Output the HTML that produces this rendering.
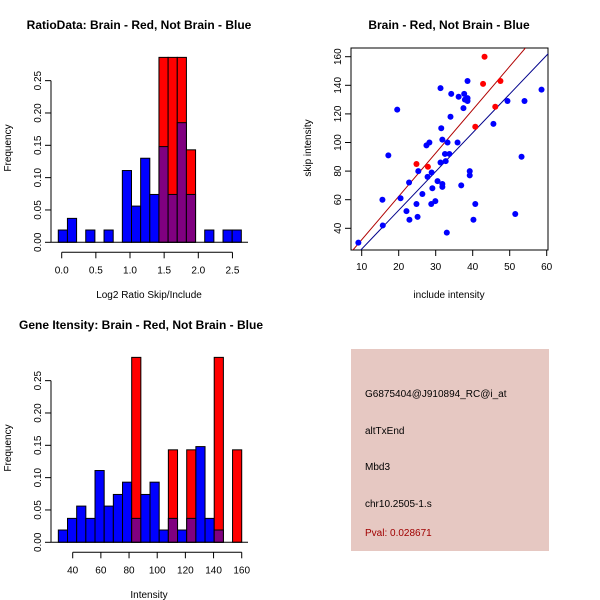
<!DOCTYPE html>
<html><head><meta charset="utf-8"><style>
body{margin:0;background:#fff;}
svg{display:block;font-family:"Liberation Sans",sans-serif;}
</style></head><body>
<svg id="c" width="600" height="600" xmlns="http://www.w3.org/2000/svg">
<rect width="600" height="600" fill="#fff"/>
<text x="139" y="29" font-size="12" font-weight="bold" text-anchor="middle">RatioData: Brain - Red, Not Brain - Blue</text>
<text x="449" y="29" font-size="12" font-weight="bold" text-anchor="middle">Brain - Red, Not Brain - Blue</text>
<text x="141" y="329" font-size="12" font-weight="bold" text-anchor="middle">Gene Itensity: Brain - Red, Not Brain - Blue</text>
<text x="149" y="298" font-size="10" text-anchor="middle">Log2 Ratio Skip/Include</text>
<text x="149" y="598" font-size="10" text-anchor="middle">Intensity</text>
<text x="449" y="298" font-size="10" text-anchor="middle">include intensity</text>
<text transform="translate(11,148) rotate(-90)" font-size="10" text-anchor="middle">Frequency</text>
<text transform="translate(11,448) rotate(-90)" font-size="10" text-anchor="middle">Frequency</text>
<text transform="translate(311,148) rotate(-90)" font-size="10" text-anchor="middle">skip intensity</text>
<g>
<rect x="351" y="349" width="198" height="202" fill="#e6c8c2"/>
<text x="365" y="397" font-size="10">G6875404@J910894_RC@i_at</text>
<text x="365" y="434" font-size="10">altTxEnd</text>
<text x="365" y="470" font-size="10">Mbd3</text>
<text x="365" y="507" font-size="10">chr10.2505-1.s</text>
<text x="365" y="536" font-size="10" fill="#a00000">Pval: 0.028671</text>
</g>
</svg>
<script>
// Ratio histogram data
const ratioBreakStart = -0.05, ratioBinWidth = 0.134;
const ratioBlue = [0.019,0.037,0,0.019,0,0.019,0,0.111,0.056,0.130,0.074,0.148,0.074,0.185,0.074,0,0.019,0,0.019,0.019];
const ratioRed  = [0,0,0,0,0,0,0,0,0,0,0,0.286,0.286,0.286,0.143,0,0,0,0,0];
const ratioXTicks = [0.0,0.5,1.0,1.5,2.0,2.5];
const ratioXLabels = ["0.0","0.5","1.0","1.5","2.0","2.5"];
const freqTicks = [0,0.05,0.10,0.15,0.20,0.25];
const freqLabels = ["0.00","0.05","0.10","0.15","0.20","0.25"];
// Intensity histogram data
const intBreakStart = 29.8, intBinWidth = 6.51;
const intBlue = [0.019,0.037,0.056,0.037,0.111,0.056,0.074,0.093,0.037,0.074,0.093,0.019,0.037,0.019,0.037,0.148,0.037,0.019,0,0];
const intRed  = [0,0,0,0,0,0,0,0,0.286,0,0,0,0.143,0,0.143,0,0,0.286,0,0.143];
const intXTicks = [40,60,80,100,120,140,160];
const intXLabels = ["40","60","80","100","120","140","160"];
// Scatter data
const blueX = [9.1,15.7,15.6,17.2,19.6,20.5,22.1,22.8,22.9,24.8,25.1,25.3,26.4,27.5,27.8,28.3,28.9,28.8,29.1,29.9,30.5,31.3,31.3,31.5,31.8,31.8,31.8,32.5,32.7,33.0,33.2,33.7,34.0,34.2,35.9,36.2,36.9,37.5,37.7,37.9,38.6,38.6,38.6,39.2,39.2,40.7,40.2,45.6,49.4,51.5,53.2,54.0,58.6];
const blueY = [30,42,60,91,123,61,52,72,46,57,48,80,64,98,76,100,79,57,68,59,73,138,86,110,102,71,69,92,87,37,100,92,118,134,100,132,70,124,134,130,143,131,129,80,77,57,46,113,129,50,90,129,137];
const redX = [24.8,27.9,40.7,43.2,42.8,47.5,46.1];
const redY = [85,83,111,160,141,143,125];
const scXTicks = [10,20,30,40,50,60];
const scYTicks = [40,60,80,100,120,140,160];
const redFit = [1.7,3.03];   // intercept, slope
const blueFit = [-1.6,2.71];

const svg = document.getElementById('c');
const NS = 'http://www.w3.org/2000/svg';
function mk(tag, attrs){const e=document.createElementNS(NS,tag);for(const k in attrs)e.setAttribute(k,attrs[k]);svg.appendChild(e);return e;}

function hist(x0px, unit, xv0, y0px, blue, red, start, bw, xt, xl, pref){
  const X=v=>x0px+(v-xv0)*unit;
  const Y=f=>y0px-f*(32.33/0.05);
  for(let i=0;i<blue.length;i++){
    const a=X(start+i*bw), b=X(start+(i+1)*bw);
    const bv=blue[i], rv=red[i];
    if(rv>0){
      const r=mk('rect',{x:a,y:Y(rv),width:b-a,height:Y(0)-Y(rv),fill:'#ff0000',stroke:'#000','stroke-width':1});
      
      
    }
    if(bv>0){
      const overlap=rv>0;
      const r=mk('rect',{x:a,y:Y(bv),width:b-a,height:Y(0)-Y(bv),fill:overlap?'#800080':'#0000ff',stroke:'#000','stroke-width':1});
      
      
    }
  }
  // y axis
  const ya=mk('line',{x1:51,y1:Y(0),x2:51,y2:Y(0.25),stroke:'#000'});
  
  
  freqTicks.forEach((t,i)=>{
    mk('line',{x1:45,y1:Y(t),x2:51,y2:Y(t),stroke:'#000'});
    const tx=mk('text',{transform:`translate(41,${Y(t)}) rotate(-90)`,'font-size':10,'text-anchor':'middle'});
    tx.textContent=freqLabels[i];
    
    
  });
  // base line
  mk('line',{x1:51,y1:Y(0),x2:248,y2:Y(0),stroke:'#000'});
  const xa=mk('line',{x1:X(xt[0]),y1:y0px+10,x2:X(xt[xt.length-1]),y2:y0px+10,stroke:'#000'});
  
  
  xt.forEach((t,i)=>{
    mk('line',{x1:X(t),y1:y0px+10,x2:X(t),y2:y0px+16,stroke:'#000'});
    const tx=mk('text',{x:X(t),y:y0px+31,'font-size':10,'text-anchor':'middle'});
    tx.textContent=xl[i];
    
    
  });
}
hist(61.7, 68.3, 0, 242.3, ratioBlue, ratioRed, ratioBreakStart, ratioBinWidth, ratioXTicks, ratioXLabels, 'ratio');
hist(72.7, 1.4085, 40, 542.3, intBlue, intRed, intBreakStart, intBinWidth, intXTicks, intXLabels, 'intensity');

// scatter
const SX=v=>361.7+(v-10)*3.7;
const SY=v=>56.7+(160-v)*1.43;
const box=mk('rect',{x:351,y:48,width:197,height:202,fill:'none',stroke:'#000'});


const clip=mk('clipPath',{id:'cp'});
const cr=document.createElementNS(NS,'rect');cr.setAttribute('x',351);cr.setAttribute('y',48);cr.setAttribute('width',197);cr.setAttribute('height',202);clip.appendChild(cr);
function fit(f,col,name){
  const l=mk('line',{x1:SX(0),y1:SY(f[0]),x2:SX(70),y2:SY(f[0]+f[1]*70),stroke:col,'stroke-width':1,'clip-path':'url(#cp)'});
  
  
}
fit(redFit,'#b00000','red-fit-line');
fit(blueFit,'#00008b','blue-fit-line');
blueX.forEach((x,i)=>{
  const c=mk('circle',{cx:SX(x),cy:SY(blueY[i]),r:3,fill:'#0000ff'});
  
  
});
redX.forEach((x,i)=>{
  const c=mk('circle',{cx:SX(x),cy:SY(redY[i]),r:3,fill:'#ff0000'});
  
  
});
scXTicks.forEach(t=>{
  mk('line',{x1:SX(t),y1:250,x2:SX(t),y2:256,stroke:'#000'});
  const tx=mk('text',{x:SX(t),y:270,'font-size':10,'text-anchor':'middle'});
  tx.textContent=t;
  
  
});
scYTicks.forEach(t=>{
  mk('line',{x1:345,y1:SY(t),x2:351,y2:SY(t),stroke:'#000'});
  const tx=mk('text',{transform:`translate(341,${SY(t)}) rotate(-90)`,'font-size':10,'text-anchor':'middle'});
  tx.textContent=t;
  
  
});
</script>
</body></html>
